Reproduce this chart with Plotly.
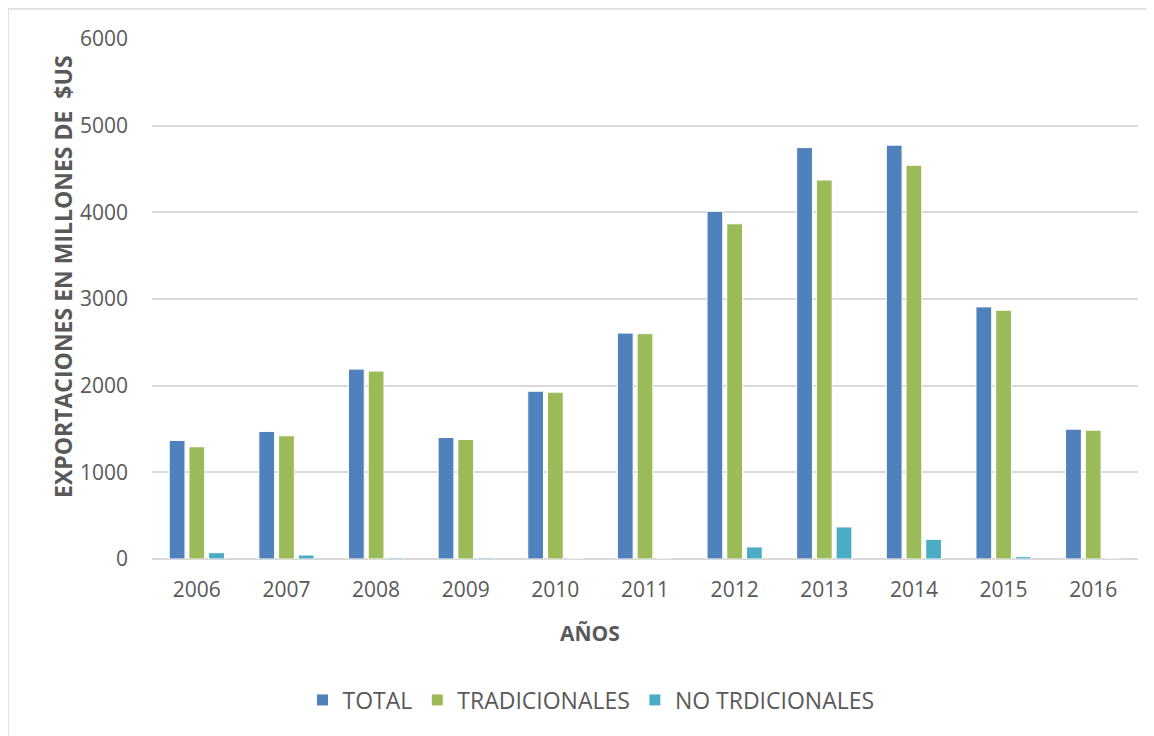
import plotly.graph_objects as go

years = ["2006", "2007", "2008", "2009", "2010", "2011", "2012", "2013", "2014", "2015", "2016"]
total = [1368, 1472, 2191, 1402, 1936, 2607, 4012, 4747, 4775, 2909, 1498]
tradicionales = [1295, 1422, 2168, 1379, 1925, 2600, 3868, 4373, 4543, 2870, 1487]
no_tradicionales = [73, 46, 15, 15, 0, 0, 139, 370, 227, 27, 0]

FONT = "Open Sans, sans-serif"
GRAY = "#595959"

# plot area on screen: x 152..1138, y 39..559
PL, PW, PB, PH = 152, 986, 559, 520


def px(x):
    return (x - PL) / PW


def py(y):
    return (PB - y) / PH


fig = go.Figure()
series = [
    ("TOTAL", total, "#4f81bd"),
    ("TRADICIONALES", tradicionales, "#9bbb59"),
    ("NO TRDICIONALES", no_tradicionales, "#4bacc6"),
]
for name, vals, color in series:
    fig.add_trace(go.Bar(x=years, y=vals, name=name,
                         marker=dict(color=color, line=dict(color="white", width=1))))

# page body adds an 8px offset, margins account for it
fig.update_layout(
    width=1154, height=736,
    margin=dict(l=144, r=24, t=31, b=185),
    paper_bgcolor="white", plot_bgcolor="white",
    barmode="group", bargap=0.34, bargroupgap=0.2,
    font=dict(family=FONT, size=20, color=GRAY),
    showlegend=True,
    legend=dict(orientation="h", x=px(591), xanchor="center", y=py(700), yanchor="middle",
                font=dict(size=23, color=GRAY), traceorder="normal"),
    xaxis=dict(showgrid=False, showline=False, ticks="", ticklabelstandoff=16,
               tickfont=dict(size=21, color=GRAY)),
    yaxis=dict(range=[0, 6000], dtick=1000, showgrid=True, gridcolor="#d9d9d9", gridwidth=1.5,
               zeroline=True, zerolinecolor="#d9d9d9", zerolinewidth=1.5,
               showline=False, ticks="", ticklabelstandoff=23,
               tickfont=dict(size=21, color=GRAY)),
    shapes=[dict(type="rect", xref="paper", yref="paper",
                 x0=px(8), x1=1.05, y0=-0.5, y1=py(9),
                 line=dict(color="#d9d9d9", width=1.5), fillcolor="rgba(0,0,0,0)", layer="below")],
    annotations=[
        dict(text="<b>AÑOS</b>", xref="paper", yref="paper", x=px(590), y=py(633),
             xanchor="center", yanchor="middle", showarrow=False,
             font=dict(size=21, color=GRAY, family=FONT)),
        dict(text="<b>EXPORTACIONES EN MILLONES DE  $US</b>", xref="paper", yref="paper",
             x=px(63), y=py(277), textangle=-90,
             xanchor="center", yanchor="middle", showarrow=False,
             font=dict(size=23, color=GRAY, family=FONT)),
    ],
)

fig.write_html("out.html")
